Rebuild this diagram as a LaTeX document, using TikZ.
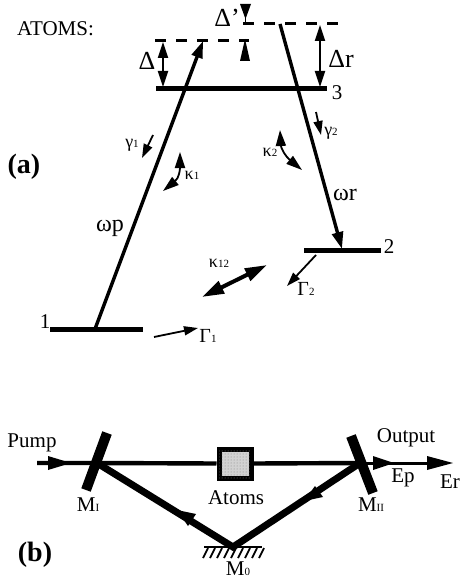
\documentclass[tikz,border=0pt]{standalone}
\usepackage{fontspec}
\setmainfont{Liberation Serif}
\usetikzlibrary{arrows.meta,patterns}
\tikzset{
 lab/.style={inner sep=0pt,font=\fontsize{18}{18}\selectfont},
 txt/.style={inner sep=0pt,font=\fontsize{21}{21}\selectfont},
 gam/.style={inner sep=0pt,font=\fontsize{20}{20}\selectfont},
 dlt/.style={inner sep=0pt,font=\fontsize{26}{26}\selectfont},
 omg/.style={inner sep=0pt,font=\fontsize{24}{24}\selectfont},
 level/.style={line width=5pt},
 dashlevel/.style={line width=3pt,dash pattern=on 11pt off 10pt},
 trans/.style={line width=3.4pt,-{Triangle[length=17pt,width=11pt]}},
 thin arr/.style={line width=1.8pt,-{Triangle[length=14pt,width=9pt]}},
 dbl/.style={line width=1.8pt,{Triangle[length=16pt,width=10pt]}-{Triangle[length=16pt,width=10pt]}},
 beam/.style={line width=4.4pt},
 heavy/.style={line width=7pt},
 mirror/.style={line width=10pt},
}
\begin{document}
\begin{tikzpicture}[x=1pt,y=-1pt]
\useasboundingbox (0,0) rectangle (459,580);
\def\sub#1{{\fontsize{11}{11}\selectfont #1}}
% nodes
\node[txt,anchor=west] (atomsT) at (17,29) {ATOMS:};
\node[inner sep=0pt,font=\fontsize{28}{28}\selectfont\bfseries] (alab) at (24,167) {(a)};
\node[inner sep=0pt,font=\fontsize{28}{28}\selectfont\bfseries] (blab) at (35,555) {(b)};
% levels
\coordinate (L3a) at (156,89); \coordinate (L3b) at (327,89);
\coordinate (L1a) at (50,329); \coordinate (L1b) at (143,329);
\coordinate (L2a) at (304,250); \coordinate (L2b) at (381,250);
\draw[level] (L3a) -- (L3b);
\draw[level] (L1a) -- (L1b);
\draw[level] (L2a) -- (L2b);
\node[txt] (n3) at (337,93) {3};
\node[txt] (n1) at (45,322) {1};
\node[txt] (n2) at (389,247) {2};
% virtual levels
\coordinate (Da) at (155,41); \coordinate (Db) at (249,41);
\coordinate (Ua) at (243,24); \coordinate (Ub) at (338,24);
\draw[dashlevel] (Da) -- (Db);
\draw[dashlevel] (Ua) -- (Ub);
% transitions
\coordinate (P0) at (95,329); \coordinate (P1) at (203,41);
\coordinate (R0) at (280,24); \coordinate (R1) at (342,249);
\draw[trans] (P0) -- (P1);
\draw[trans] (R0) -- (R1);
\node[omg] (wp) at (110,228) {ωp};
\node[omg] (wr) at (345,195) {ωr};
% detunings
\coordinate (d1) at (163,42); \coordinate (d2) at (163,87);
\coordinate (d3) at (320,25); \coordinate (d4) at (320,87);
\draw[dbl] (d1) -- (d2);
\draw[dbl] (d3) -- (d4);
\node[dlt] (D) at (147,61) {Δ};
\node[dlt] (Dp) at (227,18) {Δ'};
\node[dlt] (Dr) at (341,59) {Δr};
\fill (240,4) -- (251,4) -- (245.5,19) -- cycle;
\draw[line width=1.8pt] (245.5,17) -- (245.5,24);
\fill (240,61) -- (250,61) -- (245,39) -- cycle;
% decay labels
\node[lab] (g1) at (132,145) {γ\sub{1}};
\node[lab] (g2) at (331,133) {γ\sub{2}};
\node[lab] (k1) at (192,175) {κ\sub{1}};
\node[lab] (k2) at (270,152) {κ\sub{2}};
\node[lab] (k12) at (219,263) {κ\sub{12}};
\node[gam] (G1) at (208,336) {Γ\sub{1}};
\node[gam] (G2) at (306,289) {Γ\sub{2}};
% decay arrows
\coordinate (g1a) at (153,135); \coordinate (g1b) at (142,158);
\coordinate (g2a) at (316,112); \coordinate (g2b) at (321,135);
\draw[thin arr] (g1a) -- (g1b);
\draw[thin arr] (g2a) -- (g2b);
\coordinate (k1a) at (180,152); \coordinate (k1b) at (163,191);
\draw[dbl] (k1a) .. controls (180,170) and (179,178) .. (k1b);
\coordinate (k2a) at (280,130); \coordinate (k2b) at (302,170);
\draw[dbl] (k2a) .. controls (281,148) and (285,156) .. (k2b);
\coordinate (ka) at (202,297); \coordinate (kb) at (267,265);
\draw[line width=4pt,{Triangle[length=22pt,width=13pt]}-{Triangle[length=22pt,width=13pt]}] (ka) -- (kb);
\coordinate (G2a) at (316,255); \coordinate (G2b) at (287,286);
\draw[thin arr] (G2a) -- (G2b);
\coordinate (G1a) at (154,337); \coordinate (G1b) at (198,328);
\draw[thin arr] (G1a) -- (G1b);
% ---- (b) cavity
\node[draw=black,line width=5pt,fill=gray!35,minimum width=32pt,minimum height=29pt,inner sep=0pt,
      postaction={pattern=dots,pattern color=gray}] (box) at (235,463.5) {};
\coordinate (MIc) at (97,463); \coordinate (MIIc) at (360,463); \coordinate (M0c) at (233,547);
\coordinate (pump0) at (37,463); \coordinate (out) at (453,463);
\draw[heavy] (MIc) -- (M0c) -- (MIIc);
\draw[beam] (pump0) -- (MIc) -- (box.west);
\draw[beam] (box.east) -- (MIIc);
\draw[line width=3pt] (MIIc) -- (440,463);
\fill (48,456) -- (71,463) -- (48,470) -- cycle;
\fill (373,456) -- (394,463) -- (373,470) -- cycle;
\fill (427,456) -- (453,463) -- (427,470) -- cycle;
\fill (177,510) -- (196,514) -- (188,526) -- cycle;
\fill (304,501) -- (315,486) -- (323,497) -- cycle;
\draw[mirror] (107,433) coordinate (m1a) -- (86,490) coordinate (m1b);
\draw[mirror] (351,436) coordinate (m2a) -- (373,493) coordinate (m2b);
% ground
\coordinate (g0) at (204,547); \coordinate (g9) at (262,547);
\draw[line width=2.6pt] (g0) -- (g9);
\foreach \x in {208,215,...,264} \draw[line width=1.8pt] (\x,548) -- (\x-5,558);
% labels
\node[txt] (Pump) at (32,443) {Pump};
\node[txt] (Out) at (406,438) {Output};
\node[txt] (At) at (236,498) {Atoms};
\node[txt] (EpL) at (403,478) {Ep};
\node[txt] (ErL) at (450,482) {Er};
\node[txt] (MI) at (88,505) {M\sub{I}};
\node[txt] (MII) at (371,505) {M\sub{II}};
\node[txt] (M0) at (238,569) {M\sub{0}};
\end{tikzpicture}
\end{document}
